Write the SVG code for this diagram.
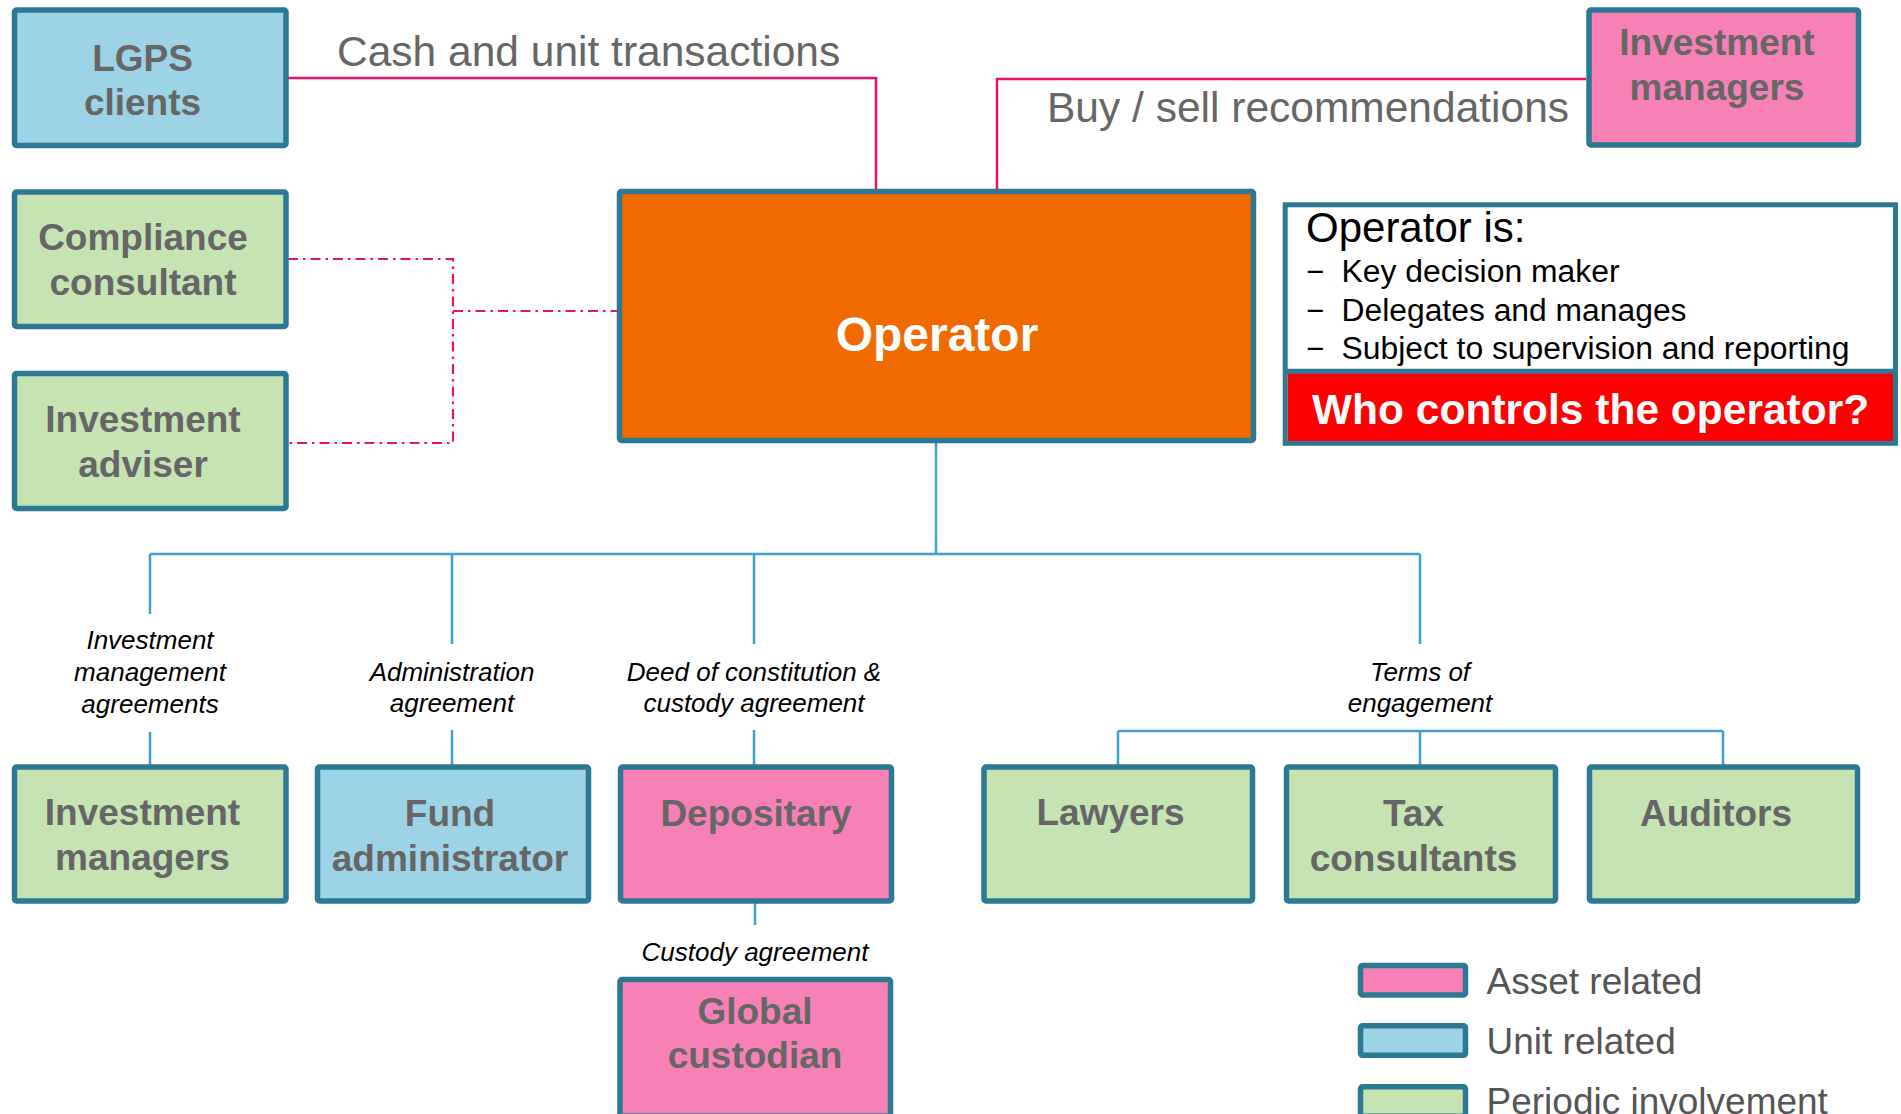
<svg xmlns="http://www.w3.org/2000/svg" width="1901" height="1114" viewBox="0 0 1901 1114">
  <style>
    .box { stroke: #2D7892; stroke-width: 5.5; }
    .asset { fill: #F780B7; }
    .unit { fill: #9DD3E6; }
    .periodic { fill: #C5E4B2; }
    .lbl { font-family: "Liberation Sans", Arial, sans-serif; font-weight: bold; font-size: 37px; fill: #666666; text-anchor: middle; }
    .agr { font-family: "Liberation Sans", Arial, sans-serif; font-style: italic; font-size: 26px; fill: #000000; text-anchor: middle; }
    .flow { font-family: "Liberation Sans", Arial, sans-serif; font-size: 42.5px; fill: #666666; }
    .legend { font-family: "Liberation Sans", Arial, sans-serif; font-size: 37px; fill: #555555; }
    .link-solid { fill: none; stroke: #E8126E; stroke-width: 2.5; }
    .link-dash { fill: none; stroke: #E8126E; stroke-width: 2.2; stroke-dasharray: 10 5 2.5 5; }
    .link-tree { fill: none; stroke: #3AA3C9; stroke-width: 2.5; }
  </style>

  <rect width="1901" height="1114" fill="#FFFFFF"/>

  <!-- connectors -->
  <g id="connectors">
    <path class="link-solid" d="M288 78 H876 V189"/>
    <path class="link-solid" d="M1586 79 H997 V189"/>
    <path class="link-dash" d="M288 259 H453 V443 H288"/>
    <path class="link-dash" d="M453 311 H617"/>
    <path class="link-tree" d="M936 443 V554 M150 554 H1420"/>
    <path class="link-tree" d="M150 554 V614 M150 732 V765"/>
    <path class="link-tree" d="M452 554 V644 M452 730 V765"/>
    <path class="link-tree" d="M754 554 V644 M754 730 V765"/>
    <path class="link-tree" d="M1420 554 V644 M1118 731 H1723 M1118 731 V765 M1420 731 V765 M1723 731 V765"/>
    <path class="link-tree" d="M755 903 V925"/>
    <text class="flow" x="337" y="66">Cash and unit transactions</text>
    <text class="flow" x="1047" y="121.5">Buy / sell recommendations</text>
    <text class="agr" x="150" y="649">Investment</text>
    <text class="agr" x="150" y="681">management</text>
    <text class="agr" x="150" y="713">agreements</text>
    <text class="agr" x="452" y="681">Administration</text>
    <text class="agr" x="452" y="712">agreement</text>
    <text class="agr" x="754" y="681">Deed of constitution &amp;</text>
    <text class="agr" x="754" y="712">custody agreement</text>
    <text class="agr" x="1420" y="681">Terms of</text>
    <text class="agr" x="1420" y="712">engagement</text>
    <text class="agr" x="755" y="961">Custody agreement</text>
  </g>

  <!-- upper left column -->
  <g id="lgps-clients">
    <rect class="box unit" x="14.5" y="10" width="271.5" height="135.5" rx="2"/>
    <text class="lbl" x="142.5" y="70.5">LGPS</text>
    <text class="lbl" x="142.5" y="115">clients</text>
  </g>
  <g id="compliance-consultant">
    <rect class="box periodic" x="14.5" y="192" width="271.5" height="134.5" rx="2"/>
    <text class="lbl" x="143" y="250">Compliance</text>
    <text class="lbl" x="143" y="295">consultant</text>
  </g>
  <g id="investment-adviser">
    <rect class="box periodic" x="14.5" y="373.5" width="271.5" height="135" rx="2"/>
    <text class="lbl" x="143" y="431.5">Investment</text>
    <text class="lbl" x="143" y="476.5">adviser</text>
  </g>

  <!-- operator -->
  <g id="operator">
    <rect x="619.5" y="191.5" width="634" height="249" rx="2" fill="#F06A00" stroke="#2D7892" stroke-width="5.5"/>
    <text x="937" y="351" font-family="'Liberation Sans', Arial, sans-serif" font-weight="bold" font-size="48" fill="#FFFFFF" text-anchor="middle">Operator</text>
  </g>

  <g id="investment-managers-top">
    <rect class="box asset" x="1589" y="10" width="269.5" height="135" rx="2"/>
    <text class="lbl" x="1717" y="55">Investment</text>
    <text class="lbl" x="1717" y="99.5">managers</text>
  </g>

  <!-- operator notes panel -->
  <g id="operator-notes">
    <rect x="1285.2" y="204.8" width="610.3" height="238.5" fill="#FFFFFF" stroke="#2D7892" stroke-width="5"/>
    <rect x="1287.7" y="373" width="605.3" height="68" fill="#FF0000"/>
    <line x1="1285.2" y1="371.3" x2="1895.5" y2="371.3" stroke="#2D7892" stroke-width="5"/>
    <text x="1306" y="241.5" font-family="'Liberation Sans', Arial, sans-serif" font-size="42" fill="#000000">Operator is:</text>
    <g font-family="'Liberation Sans', Arial, sans-serif" font-size="31" fill="#000000">
      <text x="1306" y="282">−</text>
      <text x="1341.5" y="282" textLength="278" lengthAdjust="spacingAndGlyphs">Key decision maker</text>
      <text x="1306" y="321">−</text>
      <text x="1341.5" y="321" textLength="345" lengthAdjust="spacingAndGlyphs">Delegates and manages</text>
      <text x="1306" y="359">−</text>
      <text x="1341.5" y="359" textLength="508" lengthAdjust="spacingAndGlyphs">Subject to supervision and reporting</text>
    </g>
    <text x="1312" y="424" font-family="'Liberation Sans', Arial, sans-serif" font-weight="bold" font-size="42.5" fill="#FFFFFF">Who controls the operator?</text>
  </g>

  <!-- lower row -->
  <g id="investment-managers">
    <rect class="box periodic" x="14.5" y="767" width="271.5" height="134" rx="2"/>
    <text class="lbl" x="142.5" y="825">Investment</text>
    <text class="lbl" x="142.5" y="870">managers</text>
  </g>
  <g id="fund-administrator">
    <rect class="box unit" x="317.5" y="767" width="271" height="134" rx="2"/>
    <text class="lbl" x="450" y="826">Fund</text>
    <text class="lbl" x="450" y="871">administrator</text>
  </g>
  <g id="depositary">
    <rect class="box asset" x="620.5" y="767" width="271" height="134" rx="2"/>
    <text class="lbl" x="756" y="826">Depositary</text>
  </g>
  <g id="lawyers">
    <rect class="box periodic" x="984" y="767" width="268.5" height="134" rx="2"/>
    <text class="lbl" x="1110.5" y="825">Lawyers</text>
  </g>
  <g id="tax-consultants">
    <rect class="box periodic" x="1286.5" y="767" width="269" height="134" rx="2"/>
    <text class="lbl" x="1413.5" y="826">Tax</text>
    <text class="lbl" x="1413.5" y="871">consultants</text>
  </g>
  <g id="auditors">
    <rect class="box periodic" x="1589.5" y="767" width="268" height="134" rx="2"/>
    <text class="lbl" x="1716" y="826">Auditors</text>
  </g>
  <g id="global-custodian">
    <rect class="box asset" x="620" y="979.5" width="270.5" height="136.5" rx="2"/>
    <text class="lbl" x="755" y="1024">Global</text>
    <text class="lbl" x="755" y="1068">custodian</text>
  </g>

  <!-- key -->
  <g id="legend">
    <rect class="box asset" x="1360.5" y="965.5" width="105" height="29.5" rx="2"/>
    <text class="legend" x="1486.5" y="994">Asset related</text>
    <rect class="box unit" x="1360.5" y="1025.8" width="105" height="29.5" rx="2"/>
    <text class="legend" x="1486.5" y="1054">Unit related</text>
    <rect class="box periodic" x="1360.5" y="1086.8" width="105" height="29.5" rx="2"/>
    <text class="legend" x="1486.5" y="1114">Periodic involvement</text>
  </g>
</svg>
